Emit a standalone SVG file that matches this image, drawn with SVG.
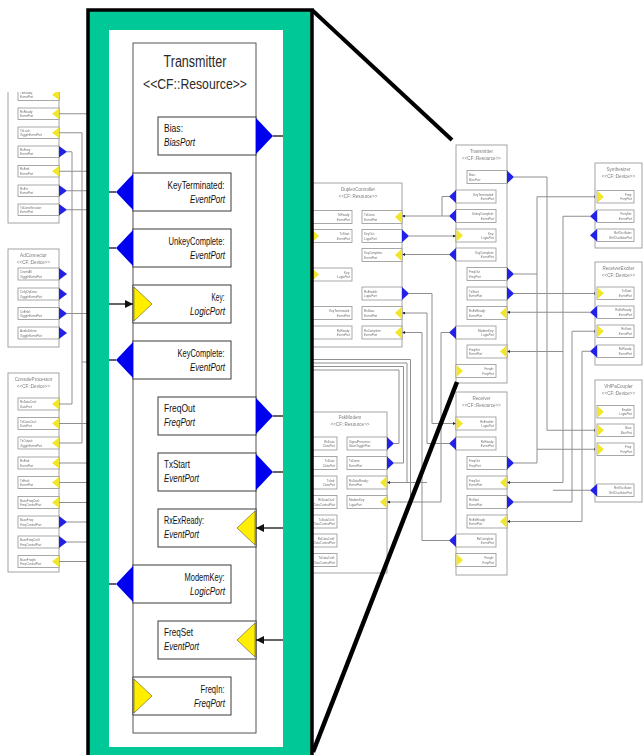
<svg xmlns="http://www.w3.org/2000/svg" width="644" height="755" viewBox="0 0 644 755">
<defs>
<style>
.cb{fill:#fff;stroke:#a3a3a3;stroke-width:1}
.pb{fill:#fff;stroke:#939393;stroke-width:.8}
.bl{fill:#2222e6}
.ye{fill:#f2e62a}
.w{fill:none;stroke:#8f8f8f;stroke-width:1}
.tt{font-family:"Liberation Sans",Arial,sans-serif;font-size:4.6px;fill:#7d7d7d;text-anchor:middle}
.pt{font-family:"Liberation Sans",Arial,sans-serif;font-size:3px;fill:#6e6e6e}
.pe{text-anchor:end}
.it{font-style:italic}
.soft{filter:url(#soft)}
.mbox{fill:#fff;stroke:#555;stroke-width:1}
.mport{fill:#fff;stroke:#3a3a3a;stroke-width:1}
.mblue{fill:#0000f0}
.myel{fill:#ffee00;stroke:#333;stroke-width:.5}
.mw{fill:none;stroke:#111;stroke-width:1.3}
.mt{font-family:"Liberation Sans",Arial,sans-serif;font-size:10.5px;fill:#111}
.mtitle{font-family:"Liberation Sans",Arial,sans-serif;fill:#2a2a2a;text-anchor:middle}
</style>
<filter id="soft" x="-10%" y="-10%" width="120%" height="120%"><feGaussianBlur stdDeviation="0.35"/></filter>
<marker id="ma" markerUnits="userSpaceOnUse" markerWidth="8" markerHeight="8" refX="8" refY="4" orient="auto"><path d="M0,0 L8,4 L0,8 z" fill="#111"/></marker>
<marker id="sa" markerUnits="userSpaceOnUse" markerWidth="3" markerHeight="3" refX="3" refY="1.5" orient="auto"><path d="M0,0 L3,1.5 L0,3 z" fill="#222"/></marker>
<clipPath id="clipL"><rect x="0" y="92" width="88" height="600"/></clipPath>
</defs>
<rect x="0" y="0" width="644" height="755" fill="#fff"/>

<!-- background connectors -->
<g id="bg-connectors" class="soft">
<g clip-path="url(#clipL)">
<path class="w" d="M59,113.75 H88"/>
<path class="w" d="M59,132.75 H82 V443 H59"/>
<path class="w" d="M82,362 H88"/>
<path class="w" d="M67,151.75 H72 V404 H59"/>
<path class="w" d="M59,171.25 H88"/>
<path class="w" d="M67,190.75 H88"/>
<path class="w" d="M67,209.75 H88"/>
<path class="w" d="M67,313.5 H88"/>
<path class="w" d="M59,423.5 H88"/>
<path class="w" d="M59,463 H88"/>
<path class="w" d="M59,482.5 H88"/>
<path class="w" d="M59,502.5 H88"/>
<path class="w" d="M67,522 H88"/>
<path class="w" d="M67,542 H88"/>
<path class="w" d="M59,561.5 H88"/>
</g>
<path class="w" d="M449,196.5 H442 V216"/>
<path class="w" d="M449,216 H402" marker-end="url(#sa)"/>
<path class="w" d="M409,236 H456" marker-end="url(#sa)"/>
<path class="w" d="M449,254.5 H402" marker-end="url(#sa)"/>
<path class="w" d="M409,293.5 H432 V423.5 H456" marker-end="url(#sa)"/>
<path class="w" d="M449,443.5 H427 V313 H402" marker-end="url(#sa)"/>
<path class="w" d="M427,482.5 H387" marker-end="url(#sa)"/>
<path class="w" d="M449,540.5 H422 V332.5 H402" marker-end="url(#sa)"/>
<path class="w" d="M449,332.5 H441 V502 H387" marker-end="url(#sa)"/>
<path class="w" d="M313,370 H399 V443.5 H394"/>
<path class="w" d="M313,366.5 H403.5 V463 H394"/>
<path class="w" d="M313,363 H407 V482.5"/>
<path class="w" d="M313,359.5 H410.5 V502"/>
<path class="w" d="M514,177 H547 V430.25 H597" marker-end="url(#sa)"/>
<path class="w" d="M514,274 H537"/>
<path class="w" d="M537,196.75 V463"/>
<path class="w" d="M537,196.75 H597" marker-end="url(#sa)"/>
<path class="w" d="M537,449.25 H597" marker-end="url(#sa)"/>
<path class="w" d="M514,463 H537"/>
<path class="w" d="M514,293.5 H597" marker-end="url(#sa)"/>
<path class="w" d="M590,312.25 H507" marker-end="url(#sa)"/>
<path class="w" d="M590,216.25 H563 V482.5 H507" marker-end="url(#sa)"/>
<path class="w" d="M563,351.5 H507" marker-end="url(#sa)"/>
<path class="w" d="M514,502 H572 V331.25 H597" marker-end="url(#sa)"/>
<path class="w" d="M590,351.25 H582 V521.5 H507" marker-end="url(#sa)"/>
<path class="w" d="M590,490.25 H553"/>
</g>

<!-- left column background nodes -->
<g id="bg-device-top" class="soft" clip-path="url(#clipL)">
<rect class="cb" x="8" y="80" width="51" height="143"/>
<rect class="pb" x="18" y="89" width="41" height="11.5"/><polygon class="ye" points="59,89.5 52,94.75 59,100"/>
<rect class="pb" x="18" y="108" width="41" height="11.5"/><polygon class="ye" points="59,108.5 52,113.75 59,119"/>
<rect class="pb" x="18" y="127" width="41" height="11.5"/><polygon class="ye" points="59,127.5 52,132.75 59,138"/>
<rect class="pb" x="18" y="146" width="41" height="11.5"/><polygon class="bl" points="59,146 67,151.75 59,157.5"/>
<rect class="pb" x="18" y="165.5" width="41" height="11.5"/><polygon class="ye" points="59,166 52,171.25 59,176.5"/>
<rect class="pb" x="18" y="185" width="41" height="11.5"/><polygon class="bl" points="59,185 67,190.75 59,196.5"/>
<rect class="pb" x="18" y="204" width="41" height="11.5"/><polygon class="bl" points="59,204 67,209.75 59,215.5"/>
<text class="pt" x="20" y="93.8">TxReady:</text><text class="pt it" x="20" y="98">EventPort</text>
<text class="pt" x="20" y="112.8">RxReady:</text><text class="pt it" x="20" y="117">EventPort</text>
<text class="pt" x="20" y="131.8">TxLock:</text><text class="pt it" x="20" y="136">ToggleEventPort</text>
<text class="pt" x="20" y="150.8">RxFreq:</text><text class="pt it" x="20" y="155">EventPort</text>
<text class="pt" x="20" y="170.3">RxEnd:</text><text class="pt it" x="20" y="174.5">EventPort</text>
<text class="pt" x="20" y="189.8">RxErr:</text><text class="pt it" x="20" y="194">EventPort</text>
<text class="pt" x="20" y="208.8">TxDoneSession:</text><text class="pt it" x="20" y="213">EventPort</text>
</g>

<g id="bg-adconnector" class="soft">
<rect class="cb" x="8" y="249" width="51" height="98"/>
<text class="tt" x="33.5" y="257">AdConnector</text>
<text class="tt" x="33.5" y="264">&lt;&lt;CF::Device&gt;&gt;</text>
<rect class="pb" x="18" y="268" width="41" height="12"/><polygon class="bl" points="59,268 67,274 59,280"/>
<rect class="pb" x="18" y="288" width="41" height="12"/><polygon class="bl" points="59,288 67,294 59,300"/>
<rect class="pb" x="18" y="307.5" width="41" height="12"/><polygon class="bl" points="59,307.5 67,313.5 59,319.5"/>
<rect class="pb" x="18" y="327" width="41" height="12"/><polygon class="bl" points="59,327 67,333 59,339"/>
<text class="pt" x="20" y="273">CnvrtrAll:</text><text class="pt it" x="20" y="277.5">ToggleEventPort</text>
<text class="pt" x="20" y="293">CnfgOpData:</text><text class="pt it" x="20" y="297.5">ToggleEventPort</text>
<text class="pt" x="20" y="312.5">CnEnbl:</text><text class="pt it" x="20" y="317">ToggleEventPort</text>
<text class="pt" x="20" y="332">AudioDelete:</text><text class="pt it" x="20" y="336.5">ToggleEventPort</text>
</g>

<g id="bg-consoleprocessor" class="soft">
<rect class="cb" x="8" y="373" width="51" height="199"/>
<text class="tt" x="33.5" y="381">ConsoleProcessor</text>
<text class="tt" x="33.5" y="388">&lt;&lt;CF::Device&gt;&gt;</text>
<rect class="pb" x="18" y="398" width="41" height="12"/><polygon class="ye" points="59,398.5 52,404 59,409.5"/>
<rect class="pb" x="18" y="417.5" width="41" height="12"/><polygon class="ye" points="59,418 52,423.5 59,429"/>
<rect class="pb" x="18" y="437" width="41" height="12"/><polygon class="ye" points="59,437.5 52,443 59,448.5"/>
<rect class="pb" x="18" y="457" width="41" height="12"/><polygon class="ye" points="59,457.5 52,463 59,468.5"/>
<rect class="pb" x="18" y="476.5" width="41" height="12"/><polygon class="ye" points="59,477 52,482.5 59,488"/>
<rect class="pb" x="18" y="496.5" width="41" height="12"/><polygon class="ye" points="59,497 52,502.5 59,508"/>
<rect class="pb" x="18" y="516" width="41" height="12"/><polygon class="bl" points="59,516 67,522 59,528"/>
<rect class="pb" x="18" y="536" width="41" height="12"/><polygon class="bl" points="59,536 67,542 59,548"/>
<rect class="pb" x="18" y="555.5" width="41" height="12"/><polygon class="ye" points="59,556 52,561.5 59,567"/>
<text class="pt" x="20" y="403">RxDataCnsl:</text><text class="pt it" x="20" y="407.5">DataPort</text>
<text class="pt" x="20" y="422.5">TxDataCnsl:</text><text class="pt it" x="20" y="427">DataPort</text>
<text class="pt" x="20" y="442">TxOutput:</text><text class="pt it" x="20" y="446.5">ToggleEventPort</text>
<text class="pt" x="20" y="462">RxEnd:</text><text class="pt it" x="20" y="466.5">EventPort</text>
<text class="pt" x="20" y="481.5">TxEnd:</text><text class="pt it" x="20" y="486">EventPort</text>
<text class="pt" x="20" y="501.5">BaseFreqCnsl:</text><text class="pt it" x="20" y="506">FreqControlPort</text>
<text class="pt" x="20" y="521">BaseFreq:</text><text class="pt it" x="20" y="525.5">FreqControlPort</text>
<text class="pt" x="20" y="541">BaseFreqCntrl:</text><text class="pt it" x="20" y="545.5">FreqControlPort</text>
<text class="pt" x="20" y="560.5">BaseFreqIn:</text><text class="pt it" x="20" y="565">FreqControlPort</text>
</g>

<!-- middle background nodes -->
<g id="bg-duplexcontroller" class="soft">
<rect class="cb" x="312" y="183" width="90" height="164"/>
<text class="tt" x="358" y="190.5">DuplexController</text>
<text class="tt" x="358" y="197.5">&lt;&lt;CF::Resource&gt;&gt;</text>
<rect class="pb" x="312" y="210.5" width="40" height="13"/><polygon class="bl" points="312,210.5 305,217 312,223.5"/>
<rect class="pb" x="312" y="229.5" width="40" height="13"/><polygon class="ye" points="312.5,230 319,236 312.5,242"/>
<rect class="pb" x="312" y="268" width="40" height="13"/><polygon class="ye" points="312.5,268.5 319,274.5 312.5,280.5"/>
<rect class="pb" x="312" y="306.5" width="40" height="13"/><polygon class="bl" points="312,306.5 305,313 312,319.5"/>
<rect class="pb" x="312" y="326" width="40" height="13"/><polygon class="bl" points="312,326 305,332.5 312,339"/>
<text class="pt pe" x="350" y="216">TxReady:</text><text class="pt pe it" x="350" y="220.5">EventPort</text>
<text class="pt pe" x="350" y="235">TxStart:</text><text class="pt pe it" x="350" y="239.5">EventPort</text>
<text class="pt pe" x="350" y="273.5">Key:</text><text class="pt pe it" x="350" y="278">LogicPort</text>
<text class="pt pe" x="350" y="312">KeyTerminated:</text><text class="pt pe it" x="350" y="316.5">EventPort</text>
<text class="pt pe" x="350" y="331.5">RxReady:</text><text class="pt pe it" x="350" y="336">EventPort</text>
<rect class="pb" x="362" y="210.5" width="40" height="13"/><polygon class="ye" points="401.5,211 395,217 401.5,223"/>
<rect class="pb" x="362" y="229.5" width="40" height="13"/><polygon class="bl" points="402,229.5 409,236 402,242.5"/>
<rect class="pb" x="362" y="248.5" width="40" height="13"/><polygon class="ye" points="401.5,249 395,255 401.5,261"/>
<rect class="pb" x="362" y="287" width="40" height="13"/><polygon class="bl" points="402,287 409,293.5 402,300"/>
<rect class="pb" x="362" y="306.5" width="40" height="13"/><polygon class="ye" points="401.5,307 395,313 401.5,319"/>
<rect class="pb" x="362" y="326" width="40" height="13"/><polygon class="ye" points="401.5,326.5 395,332.5 401.5,338.5"/>
<text class="pt" x="364" y="216">TxDone:</text><text class="pt it" x="364" y="220.5">EventPort</text>
<text class="pt" x="364" y="235">KeyOut:</text><text class="pt it" x="364" y="239.5">LogicPort</text>
<text class="pt" x="364" y="254">KeyComplete:</text><text class="pt it" x="364" y="258.5">EventPort</text>
<text class="pt" x="364" y="292.5">RxEnable:</text><text class="pt it" x="364" y="297">LogicPort</text>
<text class="pt" x="364" y="312">RxData:</text><text class="pt it" x="364" y="316.5">EventPort</text>
<text class="pt" x="364" y="331.5">RxComplete:</text><text class="pt it" x="364" y="336">EventPort</text>
</g>

<g id="bg-fskmodem" class="soft">
<rect class="cb" x="312" y="412" width="75" height="161"/>
<text class="tt" x="350" y="419">FskModem</text>
<text class="tt" x="350" y="426">&lt;&lt;CF::Resource&gt;&gt;</text>
<rect class="pb" x="312" y="437" width="25" height="13"/>
<rect class="pb" x="312" y="456.5" width="25" height="13"/>
<rect class="pb" x="312" y="476" width="25" height="13"/>
<rect class="pb" x="312" y="495.5" width="25" height="13"/>
<rect class="pb" x="312" y="515" width="25" height="13"/>
<rect class="pb" x="312" y="534" width="25" height="13"/>
<rect class="pb" x="312" y="553.5" width="25" height="13"/>
<text class="pt pe" x="335" y="442.5">RxData:</text><text class="pt pe it" x="335" y="447">DataPort</text>
<text class="pt pe" x="335" y="462">TxData:</text><text class="pt pe it" x="335" y="466.5">DataPort</text>
<text class="pt pe" x="335" y="481.5">TxInd:</text><text class="pt pe it" x="335" y="486">DataPort</text>
<text class="pt pe" x="335" y="501">RxDataCnsl:</text><text class="pt pe it" x="335" y="505.5">DataControlPort</text>
<text class="pt pe" x="335" y="520.5">TxDataCnsl:</text><text class="pt pe it" x="335" y="525">DataControlPort</text>
<text class="pt pe" x="335" y="539.5">RxDataCntrl:</text><text class="pt pe it" x="335" y="544">DataControlPort</text>
<text class="pt pe" x="335" y="559">TxDataCntrl:</text><text class="pt pe it" x="335" y="563.5">DataControlPort</text>
<rect class="pb" x="347" y="437" width="40" height="13"/><polygon class="bl" points="387,437 394,443.5 387,450"/>
<rect class="pb" x="347" y="456.5" width="40" height="13"/><polygon class="bl" points="387,456.5 394,463 387,469.5"/>
<rect class="pb" x="347" y="476" width="40" height="13"/><polygon class="ye" points="386.5,476.5 380,482.5 386.5,488.5"/>
<rect class="pb" x="347" y="495.5" width="40" height="13"/><polygon class="ye" points="386.5,496 380,502 386.5,508"/>
<text class="pt" x="349" y="442.5">SignalPresence:</text><text class="pt it" x="349" y="447">StateTogglePort</text>
<text class="pt" x="349" y="462">TxDone:</text><text class="pt it" x="349" y="466.5">EventPort</text>
<text class="pt" x="349" y="481.5">RxDataReady:</text><text class="pt it" x="349" y="486">EventPort</text>
<text class="pt" x="349" y="501">ModemKey:</text><text class="pt it" x="349" y="505.5">LogicPort</text>
</g>

<g id="bg-transmitter" class="soft">
<rect class="cb" x="456" y="145" width="51" height="238"/>
<text class="tt" x="481.5" y="152.5">Transmitter</text>
<text class="tt" x="481.5" y="159.5">&lt;&lt;CF::Resource&gt;&gt;</text>
<rect class="pb" x="467" y="170.5" width="40" height="13"/><polygon class="bl" points="507,170.5 514,177 507,183.5"/>
<rect class="pb" x="456" y="190" width="40" height="13"/><polygon class="bl" points="456,190 449,196.5 456,203"/>
<rect class="pb" x="456" y="209.5" width="40" height="13"/><polygon class="bl" points="456,209.5 449,216 456,222.5"/>
<rect class="pb" x="456" y="229" width="40" height="13"/><polygon class="ye" points="456.5,229.5 463,235.5 456.5,241.5"/>
<rect class="pb" x="456" y="248" width="40" height="13"/><polygon class="bl" points="456,248 449,254.5 456,261"/>
<rect class="pb" x="467" y="267.5" width="40" height="13"/><polygon class="bl" points="507,267.5 514,274 507,280.5"/>
<rect class="pb" x="467" y="287" width="40" height="13"/><polygon class="bl" points="507,287 514,293.5 507,300"/>
<rect class="pb" x="467" y="306.5" width="40" height="13"/><polygon class="ye" points="506.5,307 500,313 506.5,319"/>
<rect class="pb" x="456" y="326" width="40" height="13"/><polygon class="bl" points="456,326 449,332.5 456,339"/>
<rect class="pb" x="467" y="345" width="40" height="13"/><polygon class="ye" points="506.5,345.5 500,351.5 506.5,357.5"/>
<rect class="pb" x="456" y="364.5" width="40" height="13"/><polygon class="ye" points="456.5,365 463,371 456.5,377"/>
<text class="pt" x="469" y="176">Bias:</text><text class="pt it" x="469" y="180.5">BiasPort</text>
<text class="pt pe" x="494" y="195.5">KeyTerminated:</text><text class="pt pe it" x="494" y="200">EventPort</text>
<text class="pt pe" x="494" y="215">UnkeyComplete:</text><text class="pt pe it" x="494" y="219.5">EventPort</text>
<text class="pt pe" x="494" y="234.5">Key:</text><text class="pt pe it" x="494" y="239">LogicPort</text>
<text class="pt pe" x="494" y="253.5">KeyComplete:</text><text class="pt pe it" x="494" y="258">EventPort</text>
<text class="pt" x="469" y="273">FreqOut</text><text class="pt it" x="469" y="277.5">FreqPort</text>
<text class="pt" x="469" y="292.5">TxStart</text><text class="pt it" x="469" y="297">EventPort</text>
<text class="pt" x="469" y="312">RxExReady:</text><text class="pt it" x="469" y="316.5">EventPort</text>
<text class="pt pe" x="494" y="331.5">ModemKey:</text><text class="pt pe it" x="494" y="336">LogicPort</text>
<text class="pt" x="469" y="350.5">FreqSet</text><text class="pt it" x="469" y="355">EventPort</text>
<text class="pt pe" x="494" y="370">FreqIn:</text><text class="pt pe it" x="494" y="374.5">FreqPort</text>
</g>

<g id="bg-receiver" class="soft">
<rect class="cb" x="456" y="392" width="51" height="183"/>
<text class="tt" x="481.5" y="399.5">Receiver</text>
<text class="tt" x="481.5" y="406.5">&lt;&lt;CF::Resource&gt;&gt;</text>
<rect class="pb" x="456" y="417" width="40" height="13"/><polygon class="ye" points="456.5,417.5 463,423.5 456.5,429.5"/>
<rect class="pb" x="456" y="437" width="40" height="13"/><polygon class="bl" points="456,437 449,443.5 456,450"/>
<rect class="pb" x="467" y="456.5" width="40" height="13"/><polygon class="bl" points="507,456.5 514,463 507,469.5"/>
<rect class="pb" x="467" y="476" width="40" height="13"/><polygon class="ye" points="506.5,476.5 500,482.5 506.5,488.5"/>
<rect class="pb" x="467" y="495.5" width="40" height="13"/><polygon class="bl" points="507,495.5 514,502 507,508.5"/>
<rect class="pb" x="467" y="515" width="40" height="13"/><polygon class="ye" points="506.5,515.5 500,521.5 506.5,527.5"/>
<rect class="pb" x="456" y="534" width="40" height="13"/><polygon class="bl" points="456,534 449,540.5 456,547"/>
<rect class="pb" x="456" y="553.5" width="40" height="13"/><polygon class="ye" points="456.5,554 463,560 456.5,566"/>
<text class="pt pe" x="494" y="422.5">RxEnable:</text><text class="pt pe it" x="494" y="427">LogicPort</text>
<text class="pt pe" x="494" y="442.5">RxReady:</text><text class="pt pe it" x="494" y="447">EventPort</text>
<text class="pt" x="469" y="462">FreqOut</text><text class="pt it" x="469" y="466.5">FreqPort</text>
<text class="pt" x="469" y="481.5">FreqSet</text><text class="pt it" x="469" y="486">EventPort</text>
<text class="pt" x="469" y="501">RxStart</text><text class="pt it" x="469" y="505.5">EventPort</text>
<text class="pt" x="469" y="520.5">RxExReady:</text><text class="pt it" x="469" y="525">EventPort</text>
<text class="pt pe" x="494" y="539.5">RxComplete:</text><text class="pt pe it" x="494" y="544">EventPort</text>
<text class="pt pe" x="494" y="559">FreqIn:</text><text class="pt pe it" x="494" y="563.5">FreqPort</text>
</g>

<!-- right column background nodes -->
<g id="bg-synthesizer" class="soft">
<rect class="cb" x="595" y="163" width="47" height="85"/>
<text class="tt" x="618.5" y="170.5">Synthesizer</text>
<text class="tt" x="618.5" y="177.5">&lt;&lt;CF::Device&gt;&gt;</text>
<rect class="pb" x="597" y="190.5" width="37" height="12.5"/><polygon class="ye" points="597.5,191 604,196.75 597.5,202.5"/>
<rect class="pb" x="597" y="210" width="37" height="12.5"/><polygon class="bl" points="597,210 590,216.25 597,222.5"/>
<rect class="pb" x="597" y="229" width="37" height="12.5"/><polygon class="bl" points="597,229 590,235.25 597,241.5"/>
<text class="pt pe" x="632" y="195.8">Freq:</text><text class="pt pe it" x="632" y="200.3">FreqPort</text>
<text class="pt pe" x="632" y="215.3">FreqSet:</text><text class="pt pe it" x="632" y="219.8">EventPort</text>
<text class="pt pe" x="632" y="234.3">RefOscillator:</text><text class="pt pe it" x="632" y="238.8">RefOscillatorPort</text>
</g>

<g id="bg-receiverexciter" class="soft">
<rect class="cb" x="595" y="262" width="47" height="103"/>
<text class="tt" x="618.5" y="269.5">ReceiverExciter</text>
<text class="tt" x="618.5" y="276.5">&lt;&lt;CF::Device&gt;&gt;</text>
<rect class="pb" x="597" y="287" width="37" height="12.5"/><polygon class="ye" points="597.5,287.5 604,293.25 597.5,299"/>
<rect class="pb" x="597" y="306" width="37" height="12.5"/><polygon class="bl" points="597,306 590,312.25 597,318.5"/>
<rect class="pb" x="597" y="325" width="37" height="12.5"/><polygon class="ye" points="597.5,325.5 604,331.25 597.5,337"/>
<rect class="pb" x="597" y="345" width="37" height="12.5"/><polygon class="bl" points="597,345 590,351.25 597,357.5"/>
<text class="pt pe" x="632" y="292.3">TxStart:</text><text class="pt pe it" x="632" y="296.8">EventPort</text>
<text class="pt pe" x="632" y="311.3">RxExReady:</text><text class="pt pe it" x="632" y="315.8">EventPort</text>
<text class="pt pe" x="632" y="330.3">RxStart:</text><text class="pt pe it" x="632" y="334.8">EventPort</text>
<text class="pt pe" x="632" y="350.3">RxReady:</text><text class="pt pe it" x="632" y="354.8">EventPort</text>
</g>

<g id="bg-vhfpacoupler" class="soft">
<rect class="cb" x="595" y="380" width="47" height="122"/>
<text class="tt" x="618.5" y="387.5">VhfPaCoupler</text>
<text class="tt" x="618.5" y="394.5">&lt;&lt;CF::Device&gt;&gt;</text>
<rect class="pb" x="597" y="405.5" width="37" height="12.5"/><polygon class="ye" points="597.5,406 604,411.75 597.5,417.5"/>
<rect class="pb" x="597" y="424" width="37" height="12.5"/><polygon class="ye" points="597.5,424.5 604,430.25 597.5,436"/>
<rect class="pb" x="597" y="443" width="37" height="12.5"/><polygon class="ye" points="597.5,443.5 604,449.25 597.5,455"/>
<rect class="pb" x="597" y="484" width="37" height="12.5"/><polygon class="bl" points="597,484 590,490.25 597,496.5"/>
<text class="pt pe" x="632" y="410.8">Enable:</text><text class="pt pe it" x="632" y="415.3">LogicPort</text>
<text class="pt pe" x="632" y="429.3">Bias:</text><text class="pt pe it" x="632" y="433.8">BiasPort</text>
<text class="pt pe" x="632" y="448.3">Freq:</text><text class="pt pe it" x="632" y="452.8">FreqPort</text>
<text class="pt pe" x="632" y="489.3">RefOscillator:</text><text class="pt pe it" x="632" y="493.8">RefOscillatorPort</text>
</g>

<!-- zoom frame -->
<g id="zoom-frame">
<rect x="88" y="10" width="224" height="770" fill="#00c896" stroke="#000" stroke-width="3.5"/>
<rect x="109" y="30" width="174" height="717" fill="#fff"/>
</g>

<!-- main Transmitter -->
<g id="transmitter">
<rect class="mbox" x="133" y="43" width="123" height="690"/>
<text class="mtitle" x="195" y="67" font-size="16" textLength="63" lengthAdjust="spacingAndGlyphs">Transmitter</text>
<text class="mtitle" x="195" y="89" font-size="15" textLength="104" lengthAdjust="spacingAndGlyphs">&lt;&lt;CF::Resource&gt;&gt;</text>
</g>

<g id="port-bias">
<rect class="mport" x="158" y="117" width="98" height="38"/>
<polygon class="mblue" points="256,118 273,136 256,154"/>
<text class="mt" x="164" y="131.5" textLength="19" lengthAdjust="spacingAndGlyphs">Bias:</text>
<text class="mt it" x="164" y="145.5" textLength="31" lengthAdjust="spacingAndGlyphs">BiasPort</text>
</g>
<g id="port-keyterminated">
<rect class="mport" x="133" y="173" width="98" height="38"/>
<polygon class="mblue" points="133,174 116,192 133,210"/>
<text class="mt" x="224.5" y="189" text-anchor="end" textLength="57" lengthAdjust="spacingAndGlyphs">KeyTerminated:</text>
<text class="mt it" x="225" y="203" text-anchor="end" textLength="35" lengthAdjust="spacingAndGlyphs">EventPort</text>
</g>
<g id="port-unkeycomplete">
<rect class="mport" x="133" y="229" width="98" height="38"/>
<polygon class="mblue" points="133,230 116,248 133,266"/>
<text class="mt" x="224.5" y="245" text-anchor="end" textLength="56" lengthAdjust="spacingAndGlyphs">UnkeyComplete:</text>
<text class="mt it" x="225" y="259" text-anchor="end" textLength="35" lengthAdjust="spacingAndGlyphs">EventPort</text>
</g>
<g id="port-key">
<rect class="mport" x="133" y="285" width="98" height="38"/>
<polygon class="myel" points="134,287 152,304 134,321"/>
<text class="mt" x="224.5" y="301" text-anchor="end" textLength="13" lengthAdjust="spacingAndGlyphs">Key:</text>
<text class="mt it" x="225" y="315" text-anchor="end" textLength="35" lengthAdjust="spacingAndGlyphs">LogicPort</text>
</g>
<g id="port-keycomplete">
<rect class="mport" x="133" y="341" width="98" height="38"/>
<polygon class="mblue" points="133,342 116,360 133,378"/>
<text class="mt" x="224.5" y="357" text-anchor="end" textLength="47" lengthAdjust="spacingAndGlyphs">KeyComplete:</text>
<text class="mt it" x="225" y="371" text-anchor="end" textLength="35" lengthAdjust="spacingAndGlyphs">EventPort</text>
</g>
<g id="port-freqout">
<rect class="mport" x="158" y="397" width="98" height="38"/>
<polygon class="mblue" points="256,398 273,416 256,434"/>
<text class="mt" x="164" y="411.5" textLength="31" lengthAdjust="spacingAndGlyphs">FreqOut</text>
<text class="mt it" x="164" y="425.5" textLength="31" lengthAdjust="spacingAndGlyphs">FreqPort</text>
</g>
<g id="port-txstart">
<rect class="mport" x="158" y="453" width="98" height="38"/>
<polygon class="mblue" points="256,454 273,472 256,490"/>
<text class="mt" x="164" y="467.5" textLength="26" lengthAdjust="spacingAndGlyphs">TxStart</text>
<text class="mt it" x="164" y="481.5" textLength="35" lengthAdjust="spacingAndGlyphs">EventPort</text>
</g>
<g id="port-rxexready">
<rect class="mport" x="158" y="509" width="98" height="38"/>
<polygon class="myel" points="255,511 237,528 255,545"/>
<text class="mt" x="164" y="523.5" textLength="40" lengthAdjust="spacingAndGlyphs">RxExReady:</text>
<text class="mt it" x="164" y="537.5" textLength="35" lengthAdjust="spacingAndGlyphs">EventPort</text>
</g>
<g id="port-modemkey">
<rect class="mport" x="133" y="565" width="98" height="38"/>
<polygon class="mblue" points="133,566 116,584 133,602"/>
<text class="mt" x="224.5" y="581" text-anchor="end" textLength="40" lengthAdjust="spacingAndGlyphs">ModemKey:</text>
<text class="mt it" x="225" y="595" text-anchor="end" textLength="35" lengthAdjust="spacingAndGlyphs">LogicPort</text>
</g>
<g id="port-freqset">
<rect class="mport" x="158" y="621" width="98" height="38"/>
<polygon class="myel" points="255,623 237,640 255,657"/>
<text class="mt" x="164" y="635.5" textLength="29" lengthAdjust="spacingAndGlyphs">FreqSet</text>
<text class="mt it" x="164" y="649.5" textLength="35" lengthAdjust="spacingAndGlyphs">EventPort</text>
</g>
<g id="port-freqin">
<rect class="mport" x="133" y="677" width="98" height="38"/>
<polygon class="myel" points="134,679 152,696 134,713"/>
<text class="mt" x="224.5" y="693" text-anchor="end" textLength="24" lengthAdjust="spacingAndGlyphs">FreqIn:</text>
<text class="mt it" x="225" y="707" text-anchor="end" textLength="31" lengthAdjust="spacingAndGlyphs">FreqPort</text>
</g>

<g id="connectors">
<path class="mw" d="M273,136 H283"/>
<path class="mw" d="M116,192 H109"/>
<path class="mw" d="M116,248 H109"/>
<path class="mw" d="M109,304 H133" marker-end="url(#ma)"/>
<path class="mw" d="M116,360 H109"/>
<path class="mw" d="M273,416 H283"/>
<path class="mw" d="M273,472 H283"/>
<path class="mw" d="M283,528 H256" marker-end="url(#ma)"/>
<path class="mw" d="M116,584 H109"/>
<path class="mw" d="M283,640 H256" marker-end="url(#ma)"/>
</g>

<g id="zoom-lines">
<path d="M312,10 L452,140" stroke="#000" stroke-width="4" fill="none"/>
<path d="M313,752 L457,382" stroke="#000" stroke-width="4.5" fill="none"/>
</g>
</svg>
